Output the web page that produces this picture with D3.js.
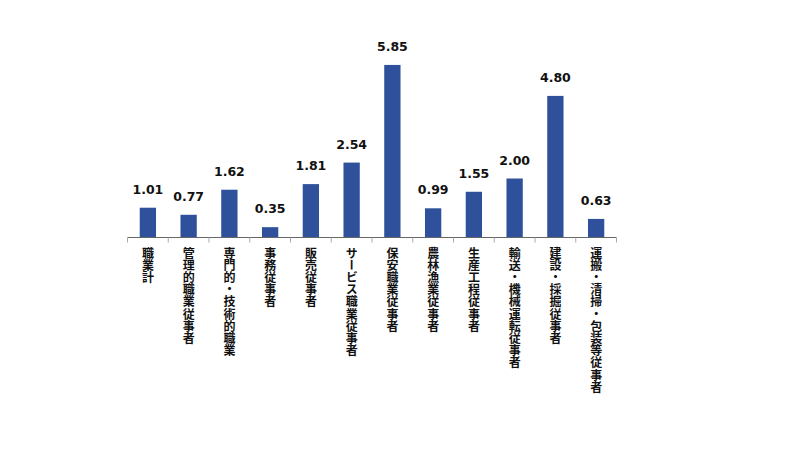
<!DOCTYPE html>
<html>
<head>
<meta charset="utf-8">
<script src="https://cdn.jsdelivr.net/npm/d3@7"></script>
<style>
  body { margin: 0; background: #fff; }
</style>
</head>
<body>
<script>
// 職業別の値
const categories = [
  "職業計", "管理的職業従事者", "専門的・技術的職業", "事務従事者",
  "販売従事者", "サービス職業従事者", "保安職業従事者", "農林漁業従事者",
  "生産工程従事者", "輸送・機械運転従事者", "建設・採掘従事者", "運搬・清掃・包装等従事者"
];
const values = [1.01, 0.77, 1.62, 0.35, 1.81, 2.54, 5.85, 0.99, 1.55, 2.00, 4.80, 0.63];

const width = 800, height = 463;
const svg = d3.select("body").append("svg")
  .attr("width", width)
  .attr("height", height);

const x = d3.scaleBand()
  .domain(categories)
  .range([127.5, 616.5])
  .paddingInner(0.6)
  .paddingOuter(0.3);

const y = d3.scaleLinear()
  .domain([0, 7])
  .range([237.5, 31]);

// bars
svg.selectAll("rect.bar")
  .data(values)
  .enter()
  .append("rect")
  .attr("class", "bar")
  .attr("x", (d, i) => x(categories[i]))
  .attr("y", d => y(d))
  .attr("width", x.bandwidth())
  .attr("height", d => y(0) - y(d))
  .attr("fill", "#2f519c");

// value labels
svg.selectAll("text.val")
  .data(values)
  .enter()
  .append("text")
  .attr("class", "val")
  .attr("x", (d, i) => x(categories[i]) + x.bandwidth() / 2)
  .attr("y", d => y(d) - 14)
  .attr("text-anchor", "middle")
  .style("font-family", "'DejaVu Sans', Verdana, sans-serif")
  .style("font-weight", "bold")
  .style("font-size", "12.5px")
  .attr("fill", "#111")
  .text(d => d.toFixed(2));

// axis line + boundary ticks
const step = x.step();
const left = x.range()[0];
svg.append("line")
  .attr("x1", left).attr("x2", x.range()[1])
  .attr("y1", y(0)).attr("y2", y(0))
  .attr("stroke", "#666").attr("stroke-width", 1);

svg.selectAll("line.tick")
  .data(d3.range(categories.length + 1))
  .enter()
  .append("line")
  .attr("class", "tick")
  .attr("x1", i => left + i * step)
  .attr("x2", i => left + i * step)
  .attr("y1", y(0))
  .attr("y2", y(0) + 5)
  .attr("stroke", "#aaa").attr("stroke-width", 1);

// vertical category labels
svg.selectAll("text.cat")
  .data(categories)
  .enter()
  .append("text")
  .attr("class", "cat")
  .attr("x", d => x(d) + x.bandwidth() / 2)
  .attr("y", 247)
  .style("writing-mode", "vertical-rl")
  .style("text-orientation", "upright")
  .style("font-family", "'Noto Sans CJK JP', sans-serif")
  .style("font-weight", "bold")
  .style("font-size", "12px")
  .style("letter-spacing", "0.2px")
  .attr("fill", "#111")
  .text(d => d);
</script>
</body>
</html>
